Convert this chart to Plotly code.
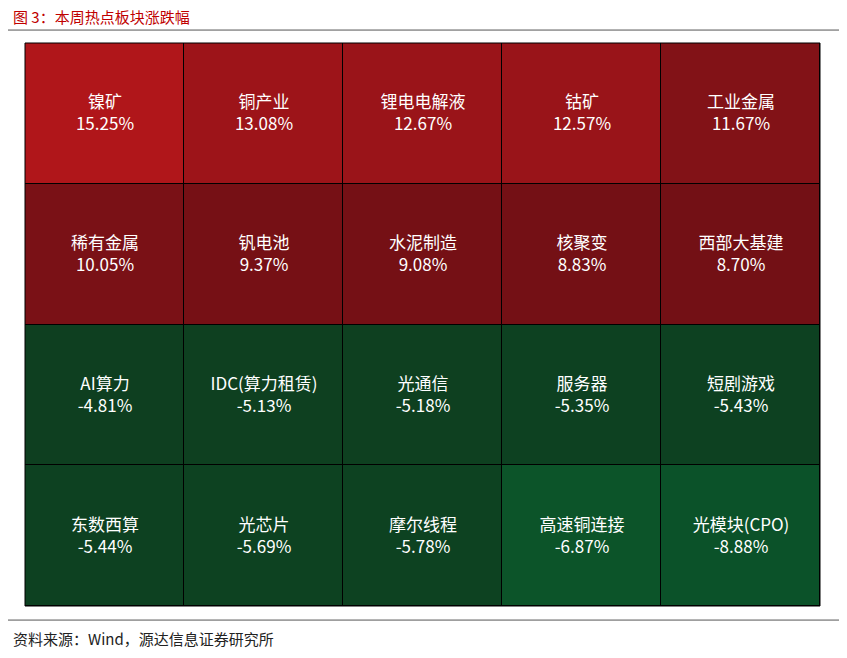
import plotly.graph_objects as go

names = [["镍矿", "铜产业", "锂电电解液", "钴矿", "工业金属"],
         ["稀有金属", "钒电池", "水泥制造", "核聚变", "西部大基建"],
         ["AI算力", "IDC(算力租赁)", "光通信", "服务器", "短剧游戏"],
         ["东数西算", "光芯片", "摩尔线程", "高速铜连接", "光模块(CPO)"]]
values = [[15.25, 13.08, 12.67, 12.57, 11.67],
          [10.05, 9.37, 9.08, 8.83, 8.70],
          [-4.81, -5.13, -5.18, -5.35, -5.43],
          [-5.44, -5.69, -5.78, -6.87, -8.88]]

zmin, zmax = -8.88, 15.25
span = zmax - zmin
def p(v):
    return (v - zmin) / span
cs = [[0, "#0B5229"], [p(-6.87), "#0C5429"], [p(-5.78), "#0D4221"], [p(-4.81), "#0E3F20"],
      [p(8.70), "#731015"], [p(11.67), "#821217"],
      [p(12.57), "#991419"], [1, "#B0161A"]]

text = [[f"{n}<br>{v:.2f}%" for n, v in zip(rn, rv)] for rn, rv in zip(names, values)]

fig = go.Figure(go.Heatmap(
    z=values, text=text, texttemplate="%{text}", colorscale=cs, zmin=zmin, zmax=zmax,
    showscale=False, xgap=1, ygap=1, hoverinfo="skip",
    textfont=dict(color="white", size=17, family="Noto Sans CJK SC")))

fig.update_layout(
    width=831, height=642, paper_bgcolor="white", plot_bgcolor="#000000",
    margin=dict(l=17, r=19, t=35, b=44),
    xaxis=dict(visible=False, range=[-0.5, 4.5]),
    yaxis=dict(visible=False, autorange="reversed"),
    font=dict(family="Noto Sans CJK SC"),
    shapes=[
        dict(type="line", xref="paper", yref="paper", x0=-0.0214, x1=1.024, y0=1.023, y1=1.023,
             line=dict(color="#555", width=1)),
        dict(type="line", xref="paper", yref="paper", x0=-0.0214, x1=1.024, y0=-0.025, y1=-0.025,
             line=dict(color="#555", width=1)),
        dict(type="rect", xref="paper", yref="paper", x0=0, x1=1, y0=0, y1=1,
             line=dict(color="black", width=1)),
    ],
    annotations=[
        dict(text="图 3：本周热点板块涨跌幅", xref="paper", yref="paper", x=-0.017, y=1.047,
             xanchor="left", yanchor="middle", showarrow=False,
             font=dict(color="#C00000", size=15)),
        dict(text="资料来源：Wind，源达信息证券研究所", xref="paper", yref="paper", x=-0.017, y=-0.058,
             xanchor="left", yanchor="middle", showarrow=False,
             font=dict(color="#222", size=15)),
    ])

fig.write_html("out.html")
